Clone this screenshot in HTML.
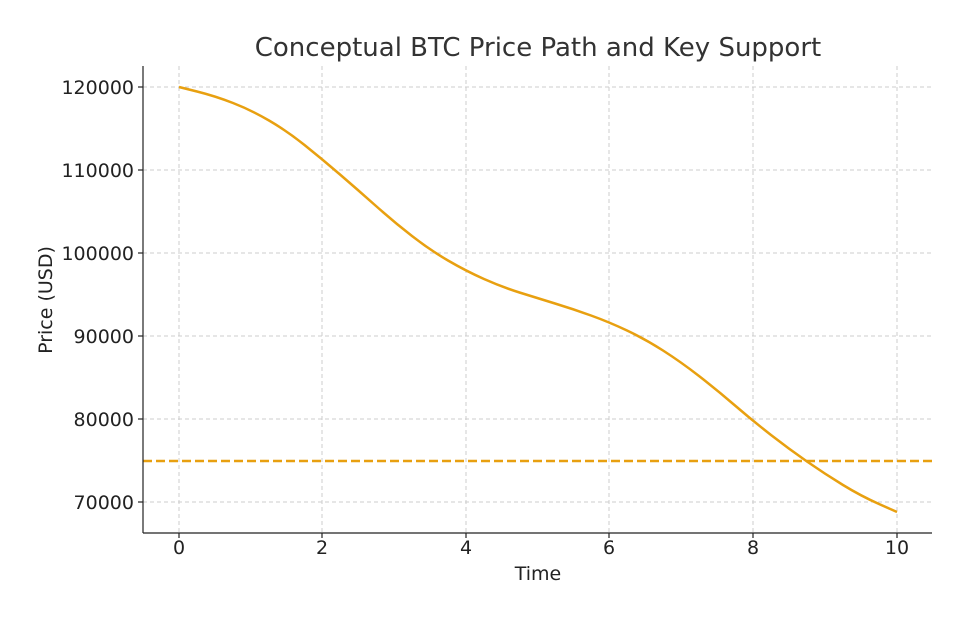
<!DOCTYPE html>
<html><head><style>body{margin:0;background:#fff}</style></head><body>
<svg width="969" height="621" xmlns="http://www.w3.org/2000/svg" font-family="DejaVu Sans, Liberation Sans, sans-serif">
<rect width="969" height="621" fill="#fff"/>
<g stroke="#cccccc" stroke-width="1" stroke-dasharray="4,3">
<line x1="179" y1="66" x2="179" y2="533"/><line x1="322" y1="66" x2="322" y2="533"/><line x1="466" y1="66" x2="466" y2="533"/><line x1="609" y1="66" x2="609" y2="533"/><line x1="753" y1="66" x2="753" y2="533"/><line x1="897" y1="66" x2="897" y2="533"/>
<line x1="143" y1="87" x2="932" y2="87"/><line x1="143" y1="170" x2="932" y2="170"/><line x1="143" y1="253" x2="932" y2="253"/><line x1="143" y1="336" x2="932" y2="336"/><line x1="143" y1="419" x2="932" y2="419"/><line x1="143" y1="502" x2="932" y2="502"/>
</g>
<line x1="143" y1="461" x2="932" y2="461" stroke="#E8A010" stroke-width="2.5" stroke-dasharray="9,4"/>
<path fill="none" stroke="#E8A010" stroke-width="2.5" stroke-linejoin="round" d="M179,87 L197,91.5 Q215,96 233,103 Q251,110 269,120.5 Q287,131 304.5,145 Q322,159 340,174.5 Q358,190 376,206 Q394,222 412,236 Q430,250 448,260.5 Q466,271 484,279 Q502,287 519.5,292.5 Q537,298 555,303.5 Q573,309 591,315.5 Q609,322 627,330.5 Q645,339 663,350.5 Q681,362 699,376 Q717,390 735,405.5 Q753,421 771,435 Q789,449 807,461.5 Q825,474 843,485 Q861,496 879,504 L897,512"/>
<g stroke="#222" stroke-width="1.2">
<line x1="143" y1="66" x2="143" y2="533"/><line x1="143" y1="533" x2="932" y2="533"/>
<line x1="179" y1="533" x2="179" y2="538"/><line x1="322" y1="533" x2="322" y2="538"/><line x1="466" y1="533" x2="466" y2="538"/><line x1="609" y1="533" x2="609" y2="538"/><line x1="753" y1="533" x2="753" y2="538"/><line x1="897" y1="533" x2="897" y2="538"/>
<line x1="138" y1="87" x2="143" y2="87"/><line x1="138" y1="170" x2="143" y2="170"/><line x1="138" y1="253" x2="143" y2="253"/><line x1="138" y1="336" x2="143" y2="336"/><line x1="138" y1="419" x2="143" y2="419"/><line x1="138" y1="502" x2="143" y2="502"/>
</g>
<g font-size="19" fill="#222" text-anchor="middle">
<text x="179" y="554">0</text><text x="322" y="554">2</text><text x="466" y="554">4</text><text x="609" y="554">6</text><text x="753" y="554">8</text><text x="897" y="554">10</text>
</g>
<g font-size="19" fill="#222" text-anchor="end">
<text x="134" y="94">120000</text><text x="134" y="177">110000</text><text x="134" y="260">100000</text><text x="134" y="343">90000</text><text x="134" y="426">80000</text><text x="134" y="509">70000</text>
</g>
<text x="538" y="580" font-size="19" fill="#222" text-anchor="middle">Time</text>
<text transform="translate(52,300) rotate(-90)" font-size="19" fill="#222" text-anchor="middle">Price (USD)</text>
<text x="538" y="56" font-size="26" fill="#333" text-anchor="middle">Conceptual BTC Price Path and Key Support</text>
</svg>
</body></html>
